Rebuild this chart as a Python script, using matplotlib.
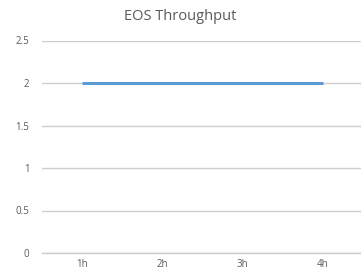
import matplotlib.pyplot as plt

# Data
hours = ["1h", "2h", "3h", "4h"]
throughput = [2, 2, 2, 2]
y_ticks = [0, 0.5, 1, 1.5, 2, 2.5]

plt.rcParams['font.family'] = ['Open Sans', 'DejaVu Sans']

fig = plt.figure(figsize=(3.61, 2.71), dpi=100)
ax = fig.add_axes([42 / 361, 18 / 271, 321 / 361, 212.5 / 271])

x = range(1, len(hours) + 1)
ax.plot(x, throughput, color="#5B9BD5", linewidth=2.2, solid_capstyle="butt", zorder=3)

ax.set_xlim(0.5, len(hours) + 0.5)
ax.set_ylim(0, 2.5)
ax.set_xticks(list(x))
ax.set_xticklabels(hours)
ax.set_yticks(y_ticks)
ax.set_yticklabels([f"{t:g}" for t in y_ticks])

ax.grid(axis="y", color="#CDCDCD", linewidth=1.0)
ax.set_axisbelow(True)
for side in ["top", "right", "left"]:
    ax.spines[side].set_visible(False)
ax.spines["bottom"].set_color("#CDCDCD")
ax.spines["bottom"].set_linewidth(1.0)
ax.tick_params(length=0, labelsize=7, colors="#595959")
ax.tick_params(axis="x", pad=4.5)
ax.tick_params(axis="y", pad=9)

fig.text(0.5, 1 - 17 / 271, "EOS Throughput", ha="center", va="center",
         fontsize=10.5, color="#595959")

fig.savefig("out.png", dpi=100)
